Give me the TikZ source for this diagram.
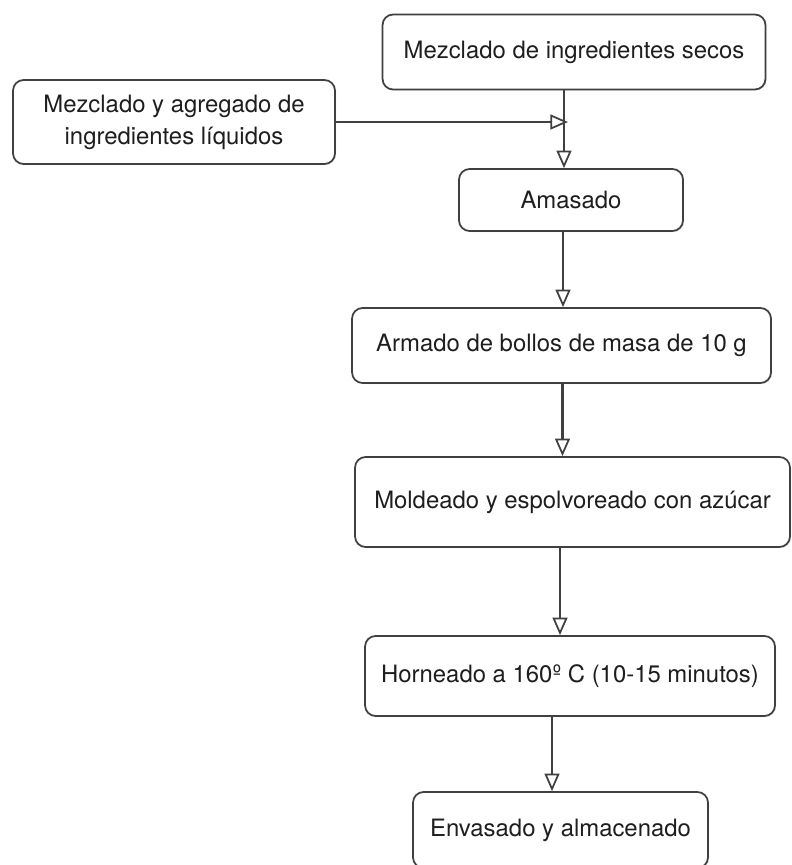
\documentclass[tikz,border=0pt]{standalone}
\usepackage{fontspec}
\setmainfont{TeX Gyre Heros}
\usetikzlibrary{positioning,arrows.meta,shadows}

\definecolor{linegray}{HTML}{404040}
\definecolor{textgray}{HTML}{1E1E1E}

\begin{document}
\begin{tikzpicture}[
  x=0.02cm, y=-0.02cm,
  font=\fontsize{13.6}{18.2}\selectfont,
  box/.style={draw=linegray, line width=1pt, rounded corners=6pt, align=center,
    fill=white, text=textgray, inner sep=2pt,
    drop shadow={opacity=0.2, shadow xshift=0.6pt, shadow yshift=-0.6pt},
    minimum width=#1},
  arrow/.style={-{Triangle[open, length=10pt, width=8.5pt, line width=1pt]}, line width=1.6pt, draw=linegray}
]
\useasboundingbox (0,0) rectangle (791,865);

\node[box=7.66cm, minimum height=1.5cm] (secos) at (574,52) {Mezclado de ingredientes secos};
\node[box=6.44cm, minimum height=1.68cm] (liquidos) at (174,122) {Mezclado y agregado de\\ingredientes líquidos};
\node[box=4.48cm, minimum height=1.24cm] (amasado) at (571,200) {Amasado};
\node[box=8.38cm, minimum height=1.5cm] (bollos) at (561.5,345.5) {Armado de bollos de masa de 10 g};
\node[box=8.7cm, minimum height=1.8cm] (moldeado) at (572.5,502) {Moldeado y espolvoreado con azúcar};
\node[box=8.2cm, minimum height=1.6cm] (horneado) at (570,676) {Horneado a 160º C (10-15 minutos)};
\node[box=5.9cm, minimum height=1.52cm] (envasado) at (560.5,830) {Envasado y almacenado};

\coordinate (join) at (568,122);
\coordinate (axis) at (564,122);

\draw[arrow] (secos.south -| axis) -- (amasado.north -| axis);
\draw[arrow] (liquidos.east |- join) -- (join);
\draw[arrow] ([xshift=-0.16cm]amasado.south) -- ([xshift=-0.16cm]amasado.south |- bollos.north);
\draw[arrow] ([xshift=0.02cm]bollos.south) -- ([xshift=0.02cm]bollos.south |- moldeado.north);
\draw[arrow] ([xshift=-0.25cm]moldeado.south) -- ([xshift=-0.25cm]moldeado.south |- horneado.north);
\draw[arrow] ([xshift=-0.36cm]horneado.south) -- ([xshift=-0.36cm]horneado.south |- envasado.north);
\end{tikzpicture}
\end{document}
